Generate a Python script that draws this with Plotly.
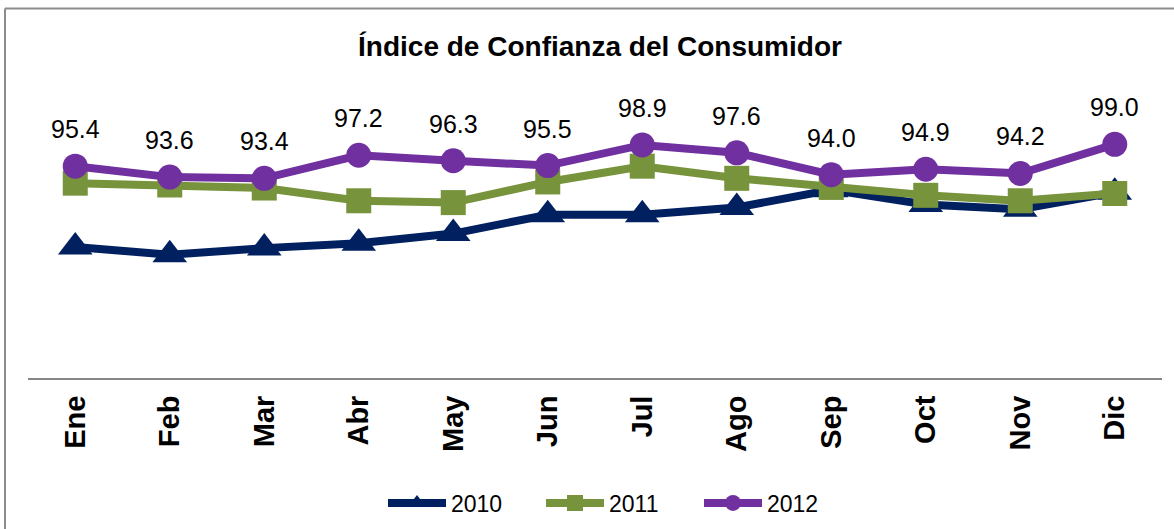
import plotly.graph_objects as go

months = ["Ene", "Feb", "Mar", "Abr", "May", "Jun", "Jul", "Ago", "Sep", "Oct", "Nov", "Dic"]
icc_2010 = [82.1, 80.8, 81.9, 82.7, 84.3, 87.4, 87.4, 88.6, 91.5, 89.1, 88.3, 91.1]
icc_2011 = [92.6, 92.3, 91.8, 89.7, 89.4, 92.8, 95.4, 93.4, 91.9, 90.6, 89.7, 90.9]
icc_2012 = [95.4, 93.6, 93.4, 97.2, 96.3, 95.5, 98.9, 97.6, 94.0, 94.9, 94.2, 99.0]

W, H = 1174, 529
L, R, T, B = 28, 12, 80, 151

series = [
    ("2010", icc_2010, "#002060", "triangle-up", 30),
    ("2011", icc_2011, "#77933C", "square", 25),
    ("2012", icc_2012, "#7030A0", "circle", 25),
]

fig = go.Figure()
for name, values, color, symbol, size in series:
    fig.add_trace(go.Scatter(
        x=months,
        y=values,
        name=name,
        mode="lines+markers",
        line={"color": color, "width": 8},
        marker={"symbol": symbol, "size": size, "color": color},
    ))

# data labels for 2012 only
for month, value in zip(months, icc_2012):
    fig.add_annotation(
        x=month, y=value, text=f"{value:.1f}", showarrow=False,
        yshift=37, font={"size": 25, "color": "#000000"},
    )

# chart frame (top and left edges visible)
pw, ph = W - L - R, H - T - B
fx0 = (5 - L) / pw
fx1 = (W - L) / pw
fy_top = (H - B - 8.5) / ph
fy_bot = (H - B - H) / ph
frame = {"color": "#8c8c8c", "width": 2}
fig.add_shape(type="line", xref="paper", yref="paper", x0=fx0, x1=fx1, y0=fy_top, y1=fy_top, line=frame)
fig.add_shape(type="line", xref="paper", yref="paper", x0=fx0, x1=fx0, y0=fy_top, y1=fy_bot, line=frame)

fig.update_layout(
    width=W,
    height=H,
    paper_bgcolor="white",
    plot_bgcolor="white",
    margin={"l": L, "r": R, "t": T, "b": B},
    font={"family": "Liberation Sans, Arial, sans-serif", "color": "#000000"},
    title={
        "text": "<b>Índice de Confianza del Consumidor</b>",
        "x": 600 / W, "xanchor": "center",
        "y": 1 - 46 / H, "yanchor": "middle",
        "font": {"size": 28, "color": "#000000"},
    },
    showlegend=True,
    legend={
        "orientation": "h",
        "xref": "container", "yref": "container",
        "x": 383 / W, "xanchor": "left",
        "y": 1 - 503 / H, "yanchor": "middle",
        "font": {"size": 23},
        "itemwidth": 58,
        "entrywidth": 85,
    },
)
fig.update_xaxes(
    type="category",
    range=[-0.5, 11.5],
    showline=True,
    linecolor="#868686",
    linewidth=2,
    showgrid=False,
    ticks="",
    tickangle=-90,
    ticklabelstandoff=4,
    tickfont={"size": 29, "family": "Liberation Sans, Arial, sans-serif"},
    tickprefix="<b>",
    ticksuffix="</b>",
)
fig.update_yaxes(
    range=[60.5, 109.6],
    visible=False,
    showgrid=False,
)

fig.write_html(
    "out.html",
    config={"displayModeBar": False},
    post_script="document.body.style.margin = '0';",
)
